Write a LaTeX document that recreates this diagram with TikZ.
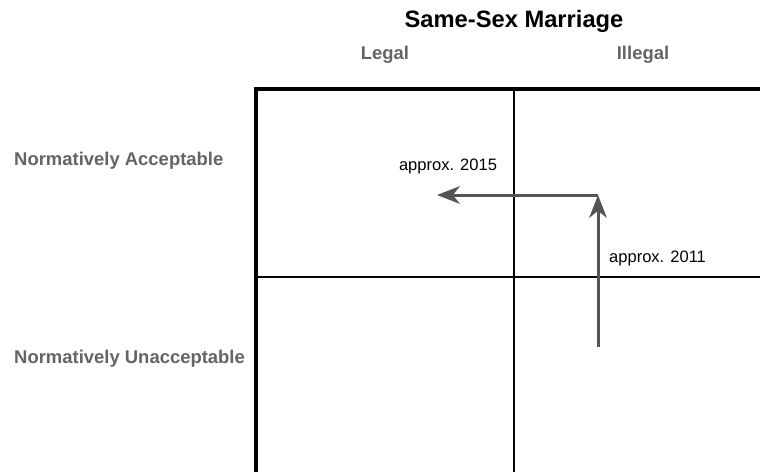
\documentclass[tikz,border=0pt]{standalone}
\usepackage{fontspec}
\setmainfont{Liberation Sans}
\usetikzlibrary{arrows.meta}
\definecolor{labelGrey}{RGB}{100,100,100}
\definecolor{arrowGrey}{RGB}{85,85,85}

\begin{document}
\begin{tikzpicture}[x=0.02cm, y=-0.02cm,
    header/.style={font=\fontsize{10.5}{12}\selectfont\bfseries, text=labelGrey},
    year/.style={font=\fontsize{9.4}{11}\selectfont, text=black},
    trend/.style={-{Stealth[length=13, width=10, inset=4]}, arrowGrey, line width=1.7pt}]

  \useasboundingbox (0, 0) rectangle (760, 471);

  % title and column / row headers
  \node (title) at (514, 21) {\fontsize{13.5}{16}\selectfont\bfseries Same-Sex Marriage};
  \node[header] (legal) at (385, 55) {Legal};
  \node[header] (illegal) at (643, 55) {Illegal};
  \node[header, anchor=west] (accept) at (8, 161) {Normatively Acceptable};
  \node[header, anchor=west] (unaccept) at (8, 359) {Normatively Unacceptable};

  % the grid: thick outer border, thin inner lines
  \draw[line width=1.8pt] (256, 480) -- (256, 89) -- (770, 89);
  \draw[line width=0.7pt] (514, 89) -- (514, 480);
  \draw[line width=0.7pt] (256, 277) -- (770, 277);

  % path of the change with year annotations
  \coordinate (start) at (598, 347);
  \coordinate (turn) at (598, 195);
  \coordinate (end) at (437, 195);
  \draw[trend] (start) -- (turn);
  \draw[trend] (turn) -- (end);
  \node[year, anchor=west] (y2011) at (603, 258) {approx. 2011};
  \node[year] (y2015) at (448, 166) {approx. 2015};

\end{tikzpicture}
\end{document}
